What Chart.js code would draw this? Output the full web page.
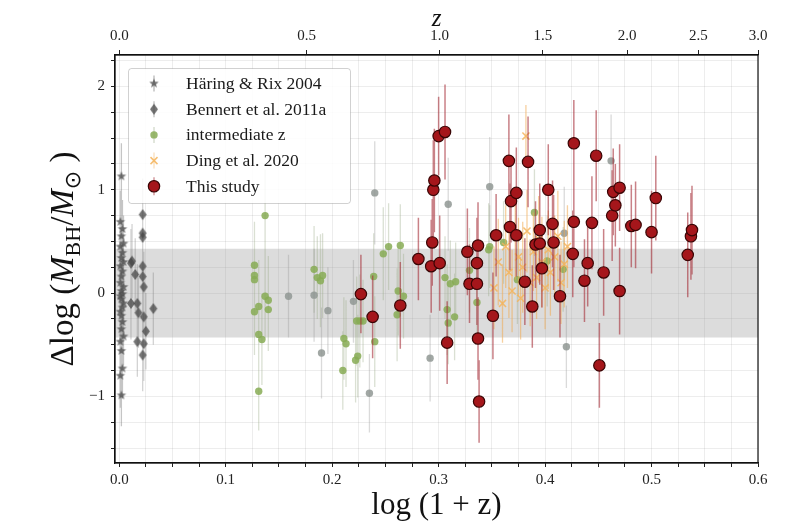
<!DOCTYPE html>
<html>
<head>
<meta charset="utf-8">
<script src="https://cdn.jsdelivr.net/npm/chart.js@4.4.1/dist/chart.umd.min.js"></script>
<style>
  html, body { margin: 0; padding: 0; background: #fff; }
</style>
</head>
<body>
<canvas id="graphique" width="800" height="530"></canvas>
<script>
// Axes
const X_MIN = -0.004, X_MAX = 0.6;
const Y_MIN = -1.645, Y_MAX = 2.305;
const zTicks = [0.0, 0.5, 1.0, 1.5, 2.0, 2.5, 3.0];
const bandLow = -0.43, bandHigh = 0.43;
const legendLabels = ["Häring & Rix 2004", "Bennert et al. 2011a", "intermediate z", "Ding et al. 2020", "This study"];

// Häring & Rix 2004
const haringX = [0.002, 0.001, 0.003, 0.002, 0.004, 0.001, 0.003, 0.002, 0.004, 0.001, 0.003, 0.002, 0.001, 0.004, 0.002, 0.003, 0.001, 0.002, 0.004, 0.003, 0.001, 0.002, 0.003, 0.002, 0.004, 0.001, 0.002, 0.003, 0.001, 0.002];
const haringY = [1.13, 0.69, 0.62, 0.55, 0.48, 0.45, 0.39, 0.34, 0.30, 0.26, 0.21, 0.16, 0.10, 0.06, 0.02, -0.01, -0.03, -0.06, -0.10, -0.14, -0.18, -0.22, -0.28, -0.35, -0.42, -0.47, -0.56, -0.73, -0.80, -0.99];
const haringErr = [0.32, 0.30, 0.28, 0.30, 0.27, 0.31, 0.29, 0.30, 0.28, 0.32, 0.30, 0.29, 0.31, 0.28, 0.30, 0.33, 0.29, 0.30, 0.28, 0.31, 0.30, 0.29, 0.32, 0.30, 0.28, 0.31, 0.30, 0.29, 0.31, 0.30];

// Bennert et al. 2011a
const bennertX = [0.022, 0.022, 0.022, 0.012, 0.011, 0.015, 0.022, 0.023, 0.022, 0.011, 0.017, 0.018, 0.023, 0.032, 0.025, 0.017, 0.023, 0.022];
const bennertY = [0.76, 0.58, 0.54, 0.31, 0.29, 0.18, 0.16, 0.06, 0.26, -0.10, -0.10, -0.19, -0.23, -0.15, -0.37, -0.47, -0.49, -0.60];
const bennertErr = [0.35, 0.38, 0.34, 0.36, 0.33, 0.35, 0.37, 0.34, 0.36, 0.35, 0.38, 0.34, 0.36, 0.35, 0.37, 0.34, 0.36, 0.35];

// intermediate z (vert)
const interX = [0.137, 0.127, 0.127, 0.127, 0.137, 0.140, 0.140, 0.131, 0.127, 0.131, 0.134, 0.131, 0.183, 0.186, 0.189, 0.191, 0.211, 0.213, 0.210, 0.222, 0.224, 0.223, 0.226, 0.229, 0.239, 0.240, 0.248, 0.253, 0.264, 0.262, 0.267, 0.261, 0.306, 0.311, 0.316, 0.308, 0.309, 0.315, 0.329, 0.347, 0.348, 0.390, 0.361, 0.402, 0.417, 0.374, 0.336];
const interY = [0.75, 0.27, 0.17, 0.13, -0.03, -0.07, -0.16, -0.13, -0.18, -0.40, -0.45, -0.95, 0.23, 0.15, 0.12, 0.17, -0.44, -0.49, -0.75, -0.65, -0.61, -0.27, -0.27, -0.27, 0.16, -0.47, 0.38, 0.45, 0.46, 0.02, -0.03, -0.21, 0.15, 0.09, 0.11, -0.16, -0.29, -0.23, 0.22, 0.42, 0.45, 0.78, 0.49, 0.31, 0.23, 0.13, -0.09];
const interErr = [0.45, 0.42, 0.40, 0.44, 0.41, 0.43, 0.40, 0.45, 0.42, 0.40, 0.44, 0.38, 0.42, 0.40, 0.45, 0.41, 0.40, 0.42, 0.38, 0.41, 0.40, 0.43, 0.45, 0.40, 0.42, 0.44, 0.45, 0.42, 0.40, 0.43, 0.41, 0.45, 0.40, 0.42, 0.38, 0.44, 0.40, 0.42, 0.41, 0.45, 0.40, 0.42, 0.40, 0.44, 0.41, 0.43, 0.40];

// intermediate z (gris)
const grayX = [0.159, 0.183, 0.196, 0.190, 0.220, 0.235, 0.240, 0.292, 0.309, 0.348, 0.418, 0.420, 0.462];
const grayY = [-0.03, -0.02, -0.17, -0.58, -0.08, -0.97, 0.97, -0.63, 0.86, 1.03, 0.58, -0.52, 1.28];
const grayErr = [0.40, 0.45, 0.42, 0.44, 0.40, 0.38, 0.50, 0.42, 0.45, 0.48, 0.45, 0.40, 0.45];

// Ding et al. 2020
const dingX = [0.382, 0.352, 0.356, 0.360, 0.363, 0.366, 0.369, 0.372, 0.375, 0.377, 0.379, 0.383, 0.386, 0.389, 0.392, 0.394, 0.397, 0.400, 0.403, 0.405, 0.409, 0.412, 0.415, 0.418, 0.421];
const dingY = [1.52, 0.05, 0.30, -0.10, 0.45, 0.20, 0.02, 0.55, 0.35, -0.05, 0.25, 0.60, 0.10, 0.40, 0.15, 0.52, 0.30, 0.05, 0.42, 0.20, 0.35, 0.55, 0.10, 0.28, 0.45];
const dingErr = [0.30, 0.40, 0.42, 0.38, 0.40, 0.44, 0.40, 0.42, 0.38, 0.40, 0.44, 0.40, 0.42, 0.38, 0.40, 0.42, 0.44, 0.40, 0.38, 0.42, 0.40, 0.44, 0.40, 0.42, 0.40];

// This study
const redX = [0.227, 0.238, 0.264, 0.281, 0.293, 0.294, 0.295, 0.296, 0.300, 0.301, 0.306, 0.308, 0.327, 0.329, 0.336, 0.336, 0.337, 0.337, 0.338, 0.351, 0.354, 0.366, 0.367, 0.368, 0.373, 0.373, 0.381, 0.384, 0.388, 0.391, 0.395, 0.395, 0.397, 0.403, 0.407, 0.408, 0.414, 0.426, 0.427, 0.427, 0.437, 0.440, 0.444, 0.448, 0.451, 0.455, 0.463, 0.464, 0.466, 0.470, 0.470, 0.481, 0.485, 0.500, 0.504, 0.534, 0.537, 0.538];
const redY = [-0.01, -0.23, -0.12, 0.33, 0.26, 0.49, 1.00, 1.09, 1.52, 0.29, 1.56, -0.48, 0.40, 0.09, 0.29, 0.09, 0.46, -0.44, -1.05, -0.22, 0.56, 1.28, 0.64, 0.89, 0.97, 0.56, 0.11, 1.27, -0.13, 0.47, 0.61, 0.48, 0.24, 1.00, 0.67, 0.49, -0.03, 0.38, 1.45, 0.69, 0.12, 0.29, 0.68, 1.33, -0.70, 0.20, 0.75, 0.98, 0.85, 1.02, 0.02, 0.65, 0.66, 0.59, 0.92, 0.37, 0.55, 0.61];
const redErr = [0.38, 0.40, 0.42, 0.40, 0.45, 0.42, 0.48, 0.50, 0.38, 0.46, 0.46, 0.40, 0.42, 0.38, 0.44, 0.40, 0.42, 0.40, 0.40, 0.42, 0.40, 0.45, 0.42, 0.40, 0.44, 0.40, 0.42, 0.44, 0.40, 0.42, 0.45, 0.40, 0.38, 0.44, 0.42, 0.46, 0.40, 0.42, 0.42, 0.44, 0.40, 0.42, 0.45, 0.44, 0.41, 0.42, 0.44, 0.42, 0.40, 0.42, 0.42, 0.40, 0.42, 0.40, 0.41, 0.41, 0.42, 0.43];

const SERIF = '"Liberation Serif", "DejaVu Serif", serif';

function points(xs, ys) {
    return xs.map((x, i) => ({ x: x, y: ys[i] }));
}

// une barre d'erreur = deux points puis une coupure
function errorBars(xs, ys, es) {
    const d = [];
    for (let i = 0; i < xs.length; i++) {
        d.push({ x: xs[i], y: ys[i] - es[i] }, { x: xs[i], y: ys[i] + es[i] }, { x: xs[i], y: null });
    }
    return d;
}

function starImage(r, color) {
    const c = document.createElement("canvas");
    c.width = c.height = 2 * r + 2;
    const g = c.getContext("2d");
    g.translate(r + 1, r + 1);
    g.beginPath();
    for (let k = 0; k < 10; k++) {
        const rad = k % 2 === 0 ? r : r * 0.42;
        const a = -Math.PI / 2 + k * Math.PI / 5;
        g.lineTo(rad * Math.cos(a), rad * Math.sin(a));
    }
    g.closePath();
    g.fillStyle = color;
    g.fill();
    return c;
}

function diamondImage(w, h, color) {
    const c = document.createElement("canvas");
    c.width = w + 2;
    c.height = h + 2;
    const g = c.getContext("2d");
    g.beginPath();
    g.moveTo(w / 2 + 1, 1);
    g.lineTo(w + 1, h / 2 + 1);
    g.lineTo(w / 2 + 1, h + 1);
    g.lineTo(1, h / 2 + 1);
    g.closePath();
    g.fillStyle = color;
    g.fill();
    return c;
}

const starImg = starImage(5, "rgba(80,80,80,0.8)");
const diamondImg = diamondImage(8, 11, "rgba(70,70,70,0.75)");

function errDataset(xs, ys, es, color, width, order) {
    return {
        type: "line",
        data: errorBars(xs, ys, es),
        showLine: true,
        spanGaps: false,
        borderColor: color,
        borderWidth: width,
        pointRadius: 0,
        fill: false,
        order: order,
    };
}

const datasets = [
    {
        type: "line",
        data: [{ x: X_MIN, y: bandHigh }, { x: X_MAX, y: bandHigh }],
        showLine: true,
        borderWidth: 0,
        borderColor: "rgba(0,0,0,0)",
        pointRadius: 0,
        fill: { value: bandLow },
        backgroundColor: "rgba(150,150,150,0.33)",
        order: 30,
    },
    errDataset(haringX, haringY, haringErr, "rgba(90,90,90,0.35)", 1.3, 21),
    { data: points(haringX, haringY), pointStyle: starImg, pointRadius: 5, order: 20 },
    errDataset(bennertX, bennertY, bennertErr, "rgba(110,110,110,0.3)", 1.3, 19),
    { data: points(bennertX, bennertY), pointStyle: diamondImg, pointRadius: 5, order: 18 },
    errDataset(interX, interY, interErr, "rgba(150,165,130,0.35)", 1.3, 17),
    errDataset(grayX, grayY, grayErr, "rgba(150,150,150,0.35)", 1.3, 16),
    { data: points(grayX, grayY), pointRadius: 3.7, backgroundColor: "rgba(145,152,148,0.85)", borderWidth: 0, order: 15 },
    { data: points(interX, interY), pointRadius: 3.7, backgroundColor: "rgba(135,172,85,0.85)", borderWidth: 0, order: 14 },
    errDataset(dingX, dingY, dingErr, "rgba(240,170,80,0.55)", 1.3, 13),
    { data: points(dingX, dingY), pointStyle: "crossRot", pointRadius: 5, borderColor: "rgba(245,180,90,0.85)", borderWidth: 1.5, order: 12 },
    errDataset(redX, redY, redErr, "rgba(165,45,55,0.6)", 1.5, 2),
    { data: points(redX, redY), pointRadius: 5.7, backgroundColor: "#a5161b", borderColor: "#3a0505", borderWidth: 1.2, order: 1 },
];

const tickFont = { family: SERIF, size: 15 };

// cadre noir autour de la zone du graphique
const cadre = {
    id: "cadre",
    afterDraw(chart) {
        const a = chart.chartArea;
        const ctx = chart.ctx;
        ctx.save();
        ctx.strokeStyle = "#111";
        ctx.lineWidth = 1.2;
        ctx.strokeRect(a.left, a.top, a.right - a.left, a.bottom - a.top);
        ctx.restore();
    }
};

// titre de l'axe y avec indices
const titreY = {
    id: "titreY",
    afterDraw(chart) {
        const a = chart.chartArea;
        const ctx = chart.ctx;
        const big = 33, small = 22;
        const parts = [
            { t: "Δlog", f: `${big}px ${SERIF}`, dy: 0 },
            { t: " (", f: `${big}px ${SERIF}`, dy: 0 },
            { t: "M", f: `italic ${big}px ${SERIF}`, dy: 0 },
            { t: "BH", f: `${small}px ${SERIF}`, dy: 7 },
            { t: "/", f: `${big}px ${SERIF}`, dy: 0 },
            { t: "M", f: `italic ${big}px ${SERIF}`, dy: 0 },
            { t: "⊙", f: `${small}px "DejaVu Sans", sans-serif`, dy: 7 },
            { t: " )", f: `${big}px ${SERIF}`, dy: 0 },
        ];
        ctx.save();
        ctx.fillStyle = "#111";
        ctx.textBaseline = "alphabetic";
        let total = 0;
        for (const p of parts) {
            ctx.font = p.f;
            p.w = ctx.measureText(p.t).width;
            total += p.w;
        }
        ctx.translate(62, (a.top + a.bottom) / 2);
        ctx.rotate(-Math.PI / 2);
        let x = -total / 2;
        for (const p of parts) {
            ctx.font = p.f;
            ctx.fillText(p.t, x, 11 + p.dy);
            x += p.w;
        }
        ctx.restore();
    }
};

// légende dans le coin haut gauche
const legende = {
    id: "legende",
    afterDraw(chart) {
        const ctx = chart.ctx;
        const bx = 128, by = 68, bw = 222, bh = 135;
        ctx.save();
        ctx.fillStyle = "rgba(255,255,255,0.85)";
        ctx.strokeStyle = "rgba(0,0,0,0.18)";
        ctx.lineWidth = 1;
        ctx.beginPath();
        ctx.roundRect(bx + 0.5, by + 0.5, bw, bh, 3);
        ctx.fill();
        ctx.stroke();

        const mx = 154;
        for (let i = 0; i < legendLabels.length; i++) {
            const yy = 83.5 + i * 25.7;
            ctx.lineWidth = 1.4;
            if (i === 0) {
                ctx.strokeStyle = "rgba(90,90,90,0.4)";
                ctx.beginPath(); ctx.moveTo(mx, yy - 8); ctx.lineTo(mx, yy + 8); ctx.stroke();
                ctx.drawImage(starImg, mx - starImg.width / 2, yy - starImg.height / 2);
            } else if (i === 1) {
                ctx.strokeStyle = "rgba(110,110,110,0.4)";
                ctx.beginPath(); ctx.moveTo(mx, yy - 8); ctx.lineTo(mx, yy + 8); ctx.stroke();
                ctx.drawImage(diamondImg, mx - diamondImg.width / 2, yy - diamondImg.height / 2);
            } else if (i === 2) {
                ctx.strokeStyle = "rgba(150,165,130,0.4)";
                ctx.beginPath(); ctx.moveTo(mx, yy - 8); ctx.lineTo(mx, yy + 8); ctx.stroke();
                ctx.fillStyle = "rgba(135,172,85,0.85)";
                ctx.beginPath(); ctx.arc(mx, yy, 3.7, 0, 2 * Math.PI); ctx.fill();
            } else if (i === 3) {
                ctx.strokeStyle = "rgba(240,170,80,0.35)";
                ctx.beginPath(); ctx.moveTo(mx, yy - 8); ctx.lineTo(mx, yy + 8); ctx.stroke();
                ctx.strokeStyle = "rgba(245,180,90,0.85)";
                ctx.lineWidth = 1.5;
                ctx.beginPath();
                ctx.moveTo(mx - 3.5, yy - 3.5); ctx.lineTo(mx + 3.5, yy + 3.5);
                ctx.moveTo(mx - 3.5, yy + 3.5); ctx.lineTo(mx + 3.5, yy - 3.5);
                ctx.stroke();
            } else {
                ctx.strokeStyle = "rgba(165,45,55,0.5)";
                ctx.beginPath(); ctx.moveTo(mx, yy - 9); ctx.lineTo(mx, yy + 9); ctx.stroke();
                ctx.fillStyle = "#a5161b";
                ctx.strokeStyle = "#3a0505";
                ctx.lineWidth = 1.2;
                ctx.beginPath(); ctx.arc(mx, yy, 5.7, 0, 2 * Math.PI); ctx.fill(); ctx.stroke();
            }
            ctx.fillStyle = "#1a1a1a";
            ctx.font = `17.5px ${SERIF}`;
            ctx.textBaseline = "middle";
            ctx.fillText(legendLabels[i], 186, yy + 1);
        }
        ctx.restore();
    }
};

new Chart(document.querySelector("#graphique"), {
    type: "scatter",
    data: { datasets: datasets },
    options: {
        responsive: false,
        animation: false,
        events: [],
        layout: { padding: { right: 42, left: 0, top: 0, bottom: 0 } },
        plugins: {
            legend: { display: false },
            tooltip: { enabled: false },
        },
        scales: {
            x: {
                type: "linear",
                position: "bottom",
                min: X_MIN,
                max: X_MAX,
                afterFit: (s) => { s.height = 67; },
                ticks: {
                    stepSize: 0.025,
                    includeBounds: false,
                    autoSkip: false,
                    maxRotation: 0,
                    padding: 4,
                    font: tickFont,
                    color: "#222",
                    callback: (v) => Math.abs(v * 10 - Math.round(v * 10)) < 1e-6 ? v.toFixed(1) : "",
                },
                grid: { color: "rgba(0,0,0,0.07)", tickColor: "#222", tickLength: 4 },
                border: { color: "#111", width: 1.2 },
                title: {
                    display: true,
                    text: "log (1 + z)",
                    font: { family: SERIF, size: 31 },
                    color: "#111",
                    padding: { top: 0, bottom: 6 },
                },
            },
            x2: {
                type: "linear",
                position: "top",
                min: X_MIN,
                max: X_MAX,
                afterFit: (s) => { s.height = 55; },
                afterBuildTicks: (s) => {
                    s.ticks = zTicks.map((z) => ({ value: Math.min(Math.log10(1 + z), X_MAX) }));
                },
                ticks: {
                    autoSkip: false,
                    maxRotation: 0,
                    padding: 5,
                    font: tickFont,
                    color: "#222",
                    callback: (v, i) => zTicks[i].toFixed(1),
                },
                grid: { drawOnChartArea: false, tickColor: "#222", tickLength: 5 },
                border: { color: "#111", width: 1.2 },
                title: {
                    display: true,
                    text: "z",
                    font: { family: SERIF, size: 25, style: "italic" },
                    color: "#111",
                    padding: { top: 4, bottom: 0 },
                },
            },
            y: {
                type: "linear",
                min: Y_MIN,
                max: Y_MAX,
                afterFit: (s) => { s.width = 115; },
                ticks: {
                    stepSize: 0.25,
                    includeBounds: false,
                    autoSkip: false,
                    padding: 6,
                    font: tickFont,
                    color: "#222",
                    callback: (v) => Math.abs(v - Math.round(v)) < 1e-6 ? String(Math.round(v)).replace("-", "\u2212") : "",
                },
                grid: { color: "rgba(0,0,0,0.07)", tickColor: "#222", tickLength: 4 },
                border: { color: "#111", width: 1.2 },
            },
        },
    },
    plugins: [cadre, titreY, legende],
});
</script>
</body>
</html>
